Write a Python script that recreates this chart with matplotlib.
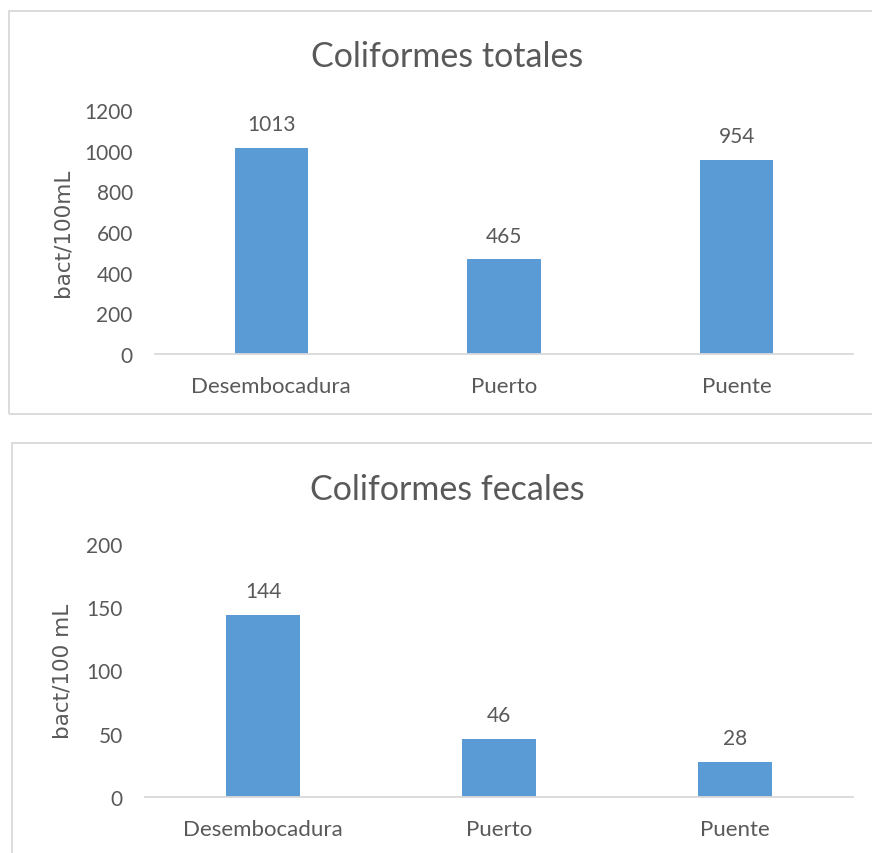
import matplotlib
matplotlib.use("Agg")
import matplotlib.pyplot as plt
from matplotlib.patches import Rectangle

categories = ["Desembocadura", "Puerto", "Puente"]
totales = [1013, 465, 954]
fecales = [144, 46, 28]
title_top = "Coliformes totales"
title_bot = "Coliformes fecales"
ylabel_top = "bact/100mL"
ylabel_bot = "bact/100 mL"

W, H = 872, 854
fig = plt.figure(figsize=(W / 100, H / 100), dpi=100)
fig.patch.set_facecolor("white")

BAR = "#5B9BD5"
TXT = "#595959"
GRID = "#D9D9D9"
FONT = "Lato"

def fx(x):
    return x / W

def fy(y):
    return 1 - y / H

# panel borders
fig.patches.append(Rectangle((fx(9), fy(415)), fx(900 - 9), fy(12) - fy(415),
                             transform=fig.transFigure, fill=False, edgecolor=GRID, linewidth=1.3))
fig.patches.append(Rectangle((fx(12), fy(900)), fx(900 - 12), fy(444) - fy(900),
                             transform=fig.transFigure, fill=False, edgecolor=GRID, linewidth=1.3))

def panel(rect, values, ymax, step, title, title_y, ylabel, ylabel_x):
    ax = fig.add_axes(rect)
    x = range(len(categories))
    bars = ax.bar(x, values, width=0.315, color=BAR, zorder=2)
    ax.set_xlim(-0.5, len(categories) - 0.5)
    ax.set_ylim(0, ymax)
    ax.set_yticks(range(0, ymax + 1, step))
    ax.set_xticks(list(x))
    ax.set_xticklabels(categories)
    for s in ["top", "right", "left"]:
        ax.spines[s].set_visible(False)
    ax.spines["bottom"].set_color(GRID)
    ax.spines["bottom"].set_linewidth(1.3)
    ax.tick_params(axis="y", length=0, labelsize=15, labelcolor=TXT, pad=16)
    ax.tick_params(axis="x", length=0, labelsize=16, labelcolor=TXT, pad=16)
    for lab in ax.get_xticklabels() + ax.get_yticklabels():
        lab.set_family(FONT)
    for b, v in zip(bars, values):
        ax.annotate(str(v), (b.get_x() + b.get_width() / 2, v), xytext=(0, 17),
                    textcoords="offset points", ha="center", va="center",
                    fontsize=15, color=TXT, family=FONT)
    fig.text(fx(447), fy(title_y), title, ha="center", va="center",
             fontsize=24.5, color=TXT, family=FONT)
    fig.text(fx(ylabel_x), (rect[1] + rect[1] + rect[3]) / 2, ylabel, rotation=90,
             ha="center", va="center", fontsize=15.5, color=TXT, family="DejaVu Sans")
    return ax

panel([fx(155), fy(355), fx(853) - fx(155), fy(111) - fy(355)], totales, 1200, 200,
      title_top, 57, ylabel_top, 62)
panel([fx(145), fy(798), fx(853) - fx(145), fy(545) - fy(798)], fecales, 200, 50,
      title_bot, 490, ylabel_bot, 62)

fig.savefig("out.png", dpi=100, facecolor="white")
